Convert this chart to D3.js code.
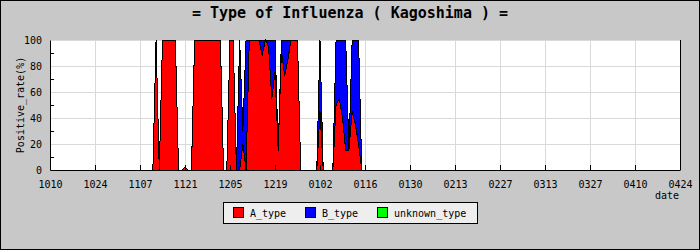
<!DOCTYPE html>
<html>
<head>
<meta charset="utf-8">
<script src="https://cdn.jsdelivr.net/npm/d3@7"></script>
<style>
  html, body { margin: 0; padding: 0; background: #c8c8c8; }
  svg { display: block; }
  text { font-family: 'DejaVu Sans Mono', monospace; fill: #000; }
</style>
</head>
<body>
<div id="chart"></div>
<script>
// Chart values (one number per day, starting 10/10)

const title = '= Type of Influenza ( Kagoshima ) =';
const yLabel = 'Positive_rate(%)';
const xLabel = 'date';
const tickLabels = ['1010','1024','1107','1121','1205','1219','0102','0116',
                    '0130','0213','0227','0313','0327','0410','0424'];
const seriesNames = ['A_type', 'B_type', 'unknown_type'];
const seriesColors = ['#ff0000', '#0000ff', '#00ff00'];

// A_type positive rate (%), 14 days per row
const aType = [
    0,0,0,0,0,0,0,0,0,0,0,0,0,0,
    0,0,0,0,0,0,0,0,0,0,0,0,0,0,
    0,0,0,0,0,100,0,100,100,100,100,100,0,0,
    2,0,0,100,100,100,100,100,100,100,100,100,0,0,
    100,100,0,0,20,0,100,100,100,100,88,100,95,55,
    75,15,92,72,85,100,100,100,0,0,0,0,0,0,
    45,0,0,0,0,50,55,40,15,15,45,35,20,0,
    0,0,0,0,0,0,0,0,0,0,0,0,0,0,
    0,0,0,0,0,0,0,0,0,0,0,0,0,0,
    0,0,0,0,0,0,0,0,0,0,0,0,0,0,
    0,0,0,0,0,0,0,0,0,0,0,0,0,0,
    0,0,0,0,0,0,0,0,0,0,0,0,0,0,
    0,0,0,0,0,0,0,0,0,0,0,0,0,0,
    0,0,0,0,0,0,0,0,0,0,0,0,0,0,
    0
];
// B_type positive rate (%)
const bType = [
    0,0,0,0,0,0,0,0,0,0,0,0,0,0,
    0,0,0,0,0,0,0,0,0,0,0,0,0,0,
    0,0,0,0,0,0,0,0,0,0,0,0,0,0,
    0,0,0,0,0,0,0,0,0,0,0,0,0,0,
    0,0,0,100,10,100,0,0,0,0,12,0,5,45,
    25,0,8,28,15,0,0,0,0,0,0,0,0,0,
    55,0,0,0,0,50,45,60,85,0,55,65,80,0,
    0,0,0,0,0,0,0,0,0,0,0,0,0,0,
    0,0,0,0,0,0,0,0,0,0,0,0,0,0,
    0,0,0,0,0,0,0,0,0,0,0,0,0,0,
    0,0,0,0,0,0,0,0,0,0,0,0,0,0,
    0,0,0,0,0,0,0,0,0,0,0,0,0,0,
    0,0,0,0,0,0,0,0,0,0,0,0,0,0,
    0,0,0,0,0,0,0,0,0,0,0,0,0,0,
    0
];
// unknown_type positive rate (%)
const unknownType = [
    0,0,0,0,0,0,0,0,0,0,0,0,0,0,
    0,0,0,0,0,0,0,0,0,0,0,0,0,0,
    0,0,0,0,0,0,0,0,0,0,0,0,0,0,
    0,0,0,0,0,0,0,0,0,0,0,0,0,0,
    0,0,0,0,0,0,0,0,0,0,0,0,0,0,
    0,0,0,0,0,0,0,0,0,0,0,0,0,0,
    0,0,0,0,0,0,0,0,0,0,0,0,0,0,
    0,0,0,0,0,0,0,0,0,0,0,0,0,0,
    0,0,0,0,0,0,0,0,0,0,0,0,0,0,
    0,0,0,0,0,0,0,0,0,0,0,0,0,0,
    0,0,0,0,0,0,0,0,0,0,0,0,0,0,
    0,0,0,0,0,0,0,0,0,0,0,0,0,0,
    0,0,0,0,0,0,0,0,0,0,0,0,0,0,
    0,0,0,0,0,0,0,0,0,0,0,0,0,0,
    0
];

// Stacked area chart class
class StackedRateChart {

    width; height; margin;
    svg; plot;
    x; y; table; layers;

    // margin: [top, bottom, left, right]
    constructor(container, width, height, margin) {
        this.width = width;
        this.height = height;
        this.margin = margin;
        this.svg = d3.select(container).append('svg')
            .attr('width', width).attr('height', height);
        this.svg.append('rect')
            .attr('x', 0.5).attr('y', 0.5)
            .attr('width', width - 1).attr('height', height - 1)
            .attr('fill', '#c8c8c8').attr('stroke', '#000');
        this.x = d3.scaleLinear()
            .domain([0, (tickLabels.length - 1) * 14])
            .range([margin[2], width - margin[3]]);
        this.y = d3.scaleLinear()
            .domain([0, 100])
            .range([height - margin[1], margin[0]]);
    }

    #drawFrame() {
        let [x0, x1] = this.x.range(), [y0, y1] = this.y.range();
        this.svg.append('rect')
            .attr('x', x0).attr('y', y1)
            .attr('width', x1 - x0).attr('height', y0 - y1)
            .attr('fill', '#fff');
        // grid
        let grid = this.svg.append('g').attr('stroke', '#d9d9d9')
            .attr('shape-rendering', 'crispEdges');
        grid.selectAll('line.gy').data(d3.range(20, 101, 20)).join('line')
            .attr('x1', x0).attr('x2', x1)
            .attr('y1', d => this.y(d)).attr('y2', d => this.y(d));
        grid.selectAll('line.gx').data(d3.range(1, tickLabels.length - 1)).join('line')
            .attr('x1', i => this.x(i * 14)).attr('x2', i => this.x(i * 14))
            .attr('y1', y0).attr('y2', y1);
    }

    #drawAreas() {
        let [x0, x1] = this.x.range(), [y0, y1] = this.y.range();
        this.svg.append('clipPath').attr('id', 'plotclip')
            .append('rect').attr('x', x0).attr('y', y1 - 1)
            .attr('width', x1 - x0).attr('height', y0 - y1 + 1);
        this.plot = this.svg.append('g').attr('clip-path', 'url(#plotclip)')
            .attr('shape-rendering', 'crispEdges');
        let area = d3.area()
            .x(d => this.x(d.data.day))
            .y0(d => this.y(d[0]))
            .y1(d => this.y(d[1]));
        let line = d3.line()
            .x(d => this.x(d.data.day))
            .y(d => this.y(d[1]));
        this.plot.selectAll('path.area').data(this.layers).join('path')
            .classed('area', true)
            .attr('fill', (d, i) => seriesColors[i])
            .attr('d', area);
        this.plot.selectAll('path.edge').data(this.layers).join('path')
            .classed('edge', true)
            .attr('fill', 'none').attr('stroke', '#000').attr('stroke-width', 1)
            .attr('d', line);
    }

    #drawAxes() {
        let [x0, x1] = this.x.range(), [y0, y1] = this.y.range();
        let xAxis = d3.axisBottom(this.x)
            .tickValues(d3.range(0, tickLabels.length).map(i => i * 14))
            .tickFormat((d, i) => tickLabels[i])
            .tickSizeInner(-5).tickSizeOuter(0).tickPadding(11);
        let gx = this.svg.append('g')
            .attr('transform', `translate(0,${y0})`)
            .call(xAxis);
        let yAxis = d3.axisLeft(this.y)
            .tickValues(d3.range(0, 101, 20))
            .tickSizeInner(0).tickSizeOuter(0).tickPadding(8);
        let gy = this.svg.append('g')
            .attr('transform', `translate(${x0},0)`)
            .call(yAxis);
        let minor = d3.axisRight(this.y)
            .tickValues(d3.range(10, 100, 20))
            .tickSizeInner(4).tickSizeOuter(0).tickFormat('');
        this.svg.append('g')
            .attr('transform', `translate(${x0},0)`)
            .call(minor).select('.domain').remove();
        [gx, gy].forEach(g => {
            g.selectAll('text').attr('font-size', 10)
                .attr('font-family', "'DejaVu Sans Mono', monospace");
            g.select('.domain').attr('stroke', '#000');
        });
        this.svg.selectAll('.tick line').attr('stroke', '#000')
            .attr('shape-rendering', 'crispEdges');
        // right edge of plot
        this.svg.append('line')
            .attr('x1', x1).attr('x2', x1).attr('y1', y1).attr('y2', y0)
            .attr('stroke', '#000').attr('shape-rendering', 'crispEdges');

        this.svg.append('text')
            .attr('x', x1 - 1).attr('y', y0 + 29)
            .attr('text-anchor', 'end').attr('font-size', 10)
            .text(xLabel);
        this.svg.append('text')
            .attr('transform', `translate(24,${(y0 + y1) / 2}) rotate(-90)`)
            .attr('text-anchor', 'middle').attr('font-size', 10)
            .text(yLabel);
        this.svg.append('text')
            .attr('x', this.width / 2).attr('y', 18)
            .attr('text-anchor', 'middle').attr('font-size', 15)
            .attr('font-weight', 'bold')
            .text(title);
    }

    #drawLegend() {
        let lg = this.svg.append('g').attr('transform', 'translate(223,202)');
        lg.append('rect')
            .attr('x', 0.5).attr('y', 0.5).attr('width', 254).attr('height', 21)
            .attr('fill', '#eeeeee').attr('stroke', '#000');
        let items = lg.selectAll('g.item').data(seriesNames).join('g')
            .classed('item', true)
            .attr('transform', (d, i) => `translate(${10 + i * 72},0)`);
        items.append('rect')
            .attr('x', 0.5).attr('y', 5.5).attr('width', 10).attr('height', 10)
            .attr('fill', (d, i) => seriesColors[i]).attr('stroke', '#000');
        items.append('text')
            .attr('x', 17).attr('y', 15).attr('font-size', 10)
            .text(d => d);
    }

    render(a, b, u) {
        this.table = a.map((v, i) => ({day: i, A: v, B: b[i], U: u[i]}));
        this.layers = d3.stack().keys(['A', 'B', 'U'])(this.table);
        this.#drawFrame();
        this.#drawAreas();
        this.#drawAxes();
        this.#drawLegend();
        return this;
    }
}

new StackedRateChart('#chart', 700, 250, [40, 80, 50, 20])
    .render(aType, bType, unknownType);
</script>
</body>
</html>
